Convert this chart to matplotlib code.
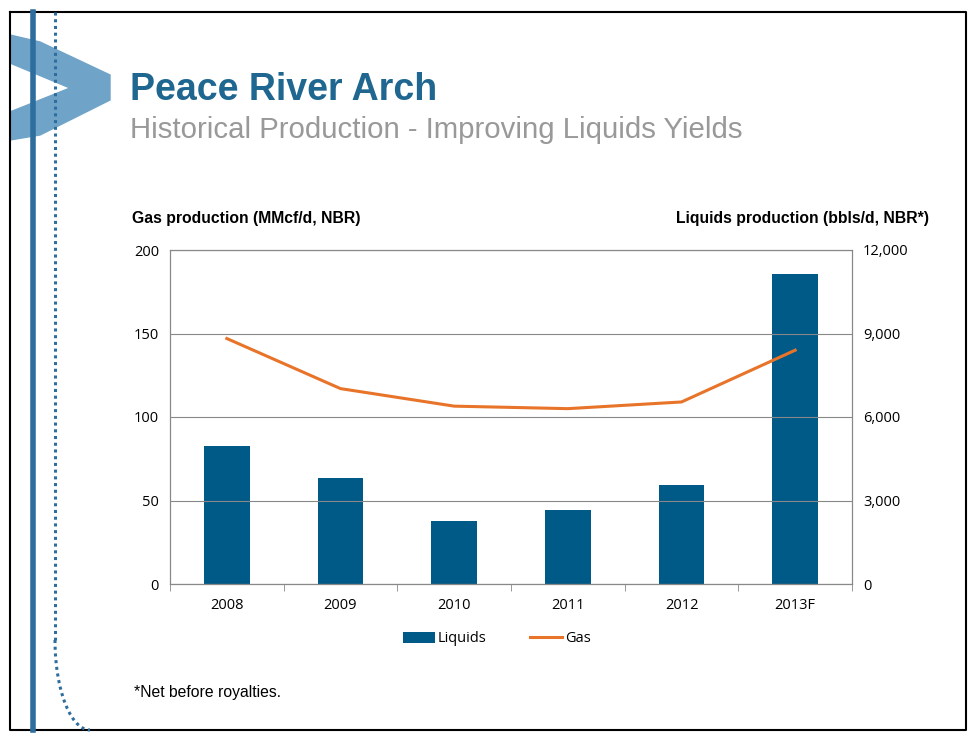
import matplotlib
matplotlib.use("Agg")
import matplotlib.pyplot as plt
from matplotlib.patches import Polygon
from matplotlib.lines import Line2D
import numpy as np

years = ["2008", "2009", "2010", "2011", "2012", "2013F"]
liquids = [4950, 3810, 2260, 2660, 3560, 11140]
gas = [147, 117, 106.5, 105, 109, 140]

W, H = 974, 740
fig = plt.figure(figsize=(W/100, H/100), dpi=100)
fs = "Liberation Sans"

def fx(x): return x / W
def fy(y): return 1 - y / H

fig.add_artist(Line2D([fx(10), fx(966), fx(966), fx(10), fx(10)],
                      [fy(12), fy(12), fy(730), fy(730), fy(12)], color="black", lw=1.5))
fig.add_artist(Line2D([fx(33), fx(33)], [fy(12), fy(730)], color="#2E6E9E", lw=4))
fig.add_artist(Line2D([fx(55), fx(55)], [fy(12), fy(640)], color="#2E6E9E", lw=2.2, ls=(0, (1, 1.2))))
t = np.linspace(0, np.pi/2, 30)
fig.add_artist(Line2D(fx(55 + 35*(1-np.cos(t))), fy(640 + 90*np.sin(t)), color="#2E6E9E", lw=2.2, ls=(0, (1, 1.2))))
fig.add_artist(Polygon([[fx(10), fy(35)], [fx(40), fy(42)], [fx(110), fy(75)], [fx(110), fy(100)],
                        [fx(40), fy(135)], [fx(10), fy(140)], [fx(10), fy(112)], [fx(70), fy(88)],
                        [fx(10), fy(63)]],
                       closed=True, color="#6FA3C8", transform=fig.transFigure))

fig.text(fx(130), fy(90), "Peace River Arch", fontsize=27, fontweight="bold", color="#1F6690", family=fs, va="center")
fig.text(fx(130), fy(130), "Historical Production - Improving Liquids Yields", fontsize=21.2, color="#999999", family=fs, va="center")
fig.text(fx(132), fy(219), "Gas production (MMcf/d, NBR)", fontsize=11.3, fontweight="bold", family=fs, va="center")
fig.text(fx(929), fy(219), "Liquids production (bbls/d, NBR*)", fontsize=11.3, fontweight="bold", family=fs, va="center", ha="right")
fig.text(fx(134), fy(693), "*Net before royalties.", fontsize=11.3, family=fs, va="center")

ax = fig.add_axes([fx(170), fy(584), fx(852-170), (584-250)/H])
ax2 = ax.twinx()
x = np.arange(len(years))
ax2.bar(x, liquids, width=0.4, color="#005A87", label="Liquids", zorder=2)
ax2.set_ylim(0, 12000)
ax2.set_yticks([0, 3000, 6000, 9000, 12000])
ax2.set_yticklabels(["0", "3,000", "6,000", "9,000", "12,000"])
ax.set_ylim(0, 200)
ax.set_yticks([0, 50, 100, 150, 200])
ax.set_xlim(-0.5, len(years)-0.5)
ax.set_xticks(x)
ax.set_xticklabels(years)
ax.grid(axis="y", color="#888888", lw=0.8)
ax.set_axisbelow(True)
ax.set_zorder(ax2.get_zorder()+1)
ax.patch.set_visible(False)
ax.plot(x, gas, color="#E8742A", lw=2.2, label="Gas")
for a in (ax, ax2):
    for s in a.spines.values():
        s.set_color("#888888")
    a.tick_params(length=0, labelsize=10.5, pad=8)
    for lb in a.get_xticklabels() + a.get_yticklabels():
        lb.set_family("Open Sans")
ax.set_xticks(np.arange(-0.5, len(years), 1), minor=True)
ax.tick_params(axis="x", which="major", length=0, pad=10)
ax.tick_params(axis="x", which="minor", length=5, color="#888888")

h1, l1 = ax2.get_legend_handles_labels()
h2, l2 = ax.get_legend_handles_labels()
fig.legend(h1 + h2, l1 + l2, loc="center", bbox_to_anchor=(fx(497), fy(639)), ncol=2,
           frameon=False, prop={"family": "Open Sans", "size": 10.5}, handlelength=2.2,
           columnspacing=3, handletextpad=0.2)

fig.savefig("out.png", dpi=100)
